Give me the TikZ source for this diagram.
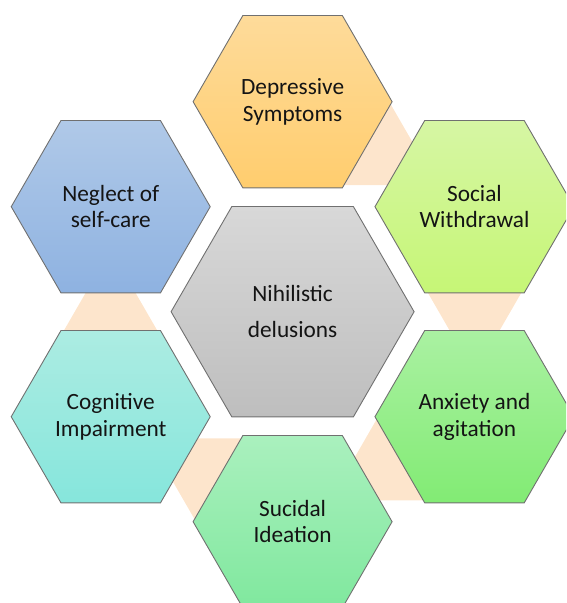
\documentclass[tikz,border=0pt]{standalone}
\usepackage{fontspec}
\setmainfont{Carlito}
\usetikzlibrary{shapes.geometric}

\definecolor{peach}{RGB}{253,229,204}
\definecolor{hexline}{RGB}{112,112,112}
\definecolor{txt}{RGB}{20,20,20}
\definecolor{coreT}{RGB}{216,216,216}
\definecolor{coreB}{RGB}{190,190,190}
\definecolor{depT}{RGB}{254,219,154}
\definecolor{depB}{RGB}{255,205,110}
\definecolor{socT}{RGB}{214,246,164}
\definecolor{socB}{RGB}{198,246,118}
\definecolor{anxT}{RGB}{170,241,162}
\definecolor{anxB}{RGB}{130,235,116}
\definecolor{suiT}{RGB}{170,240,190}
\definecolor{suiB}{RGB}{128,232,158}
\definecolor{cogT}{RGB}{172,236,226}
\definecolor{cogB}{RGB}{134,230,220}
\definecolor{negT}{RGB}{176,201,232}
\definecolor{negB}{RGB}{142,178,225}

\begin{document}
\begin{tikzpicture}[x=1pt,y=1pt,
  hexbox/.style={regular polygon, regular polygon sides=6, draw=hexline,
    line width=0.9pt, inner sep=0pt, align=center, text=txt,
    font=\fontsize{23.3}{26.5}\selectfont},
  outerhex/.style={hexbox, minimum size=199pt},
  corehex/.style={hexbox, minimum size=243pt,
    font=\fontsize{23.3}{36}\selectfont},
  shadeV/.style={top color=#1T, bottom color=#1B},
  link/.style={fill=peach, draw=none}]

\useasboundingbox (-292.6,-291.3) rectangle (273.4,311.7);
\clip (-292.6,-291.3) rectangle (273.4,311.7);

% process links: one triangle, turned about the centre for each step
\foreach \ang in {60,0,-60,-120,180}
  \fill[link, rotate=\ang] (182,-62) -- (122,41.9) -- (242,41.9) -- cycle;

% central idea
\node[corehex, shadeV=core] (core) at (0,0) {Nihilistic\\delusions};

% surrounding steps
\node[outerhex, shadeV=dep] (dep) at (90:210)   {Depressive\\Symptoms};
\node[outerhex, shadeV=soc] (soc) at (30:210)   {Social\\Withdrawal};
\node[outerhex, shadeV=anx] (anx) at (-30:210)  {Anxiety and\\agitation};
\node[outerhex, shadeV=sui] (sui) at (-90:210)  {Sucidal\\Ideation};
\node[outerhex, shadeV=cog] (cog) at (-150:210) {Cognitive\\Impairment};
\node[outerhex, shadeV=neg] (neg) at (150:210)  {Neglect of\\self-care};

\end{tikzpicture}
\end{document}
